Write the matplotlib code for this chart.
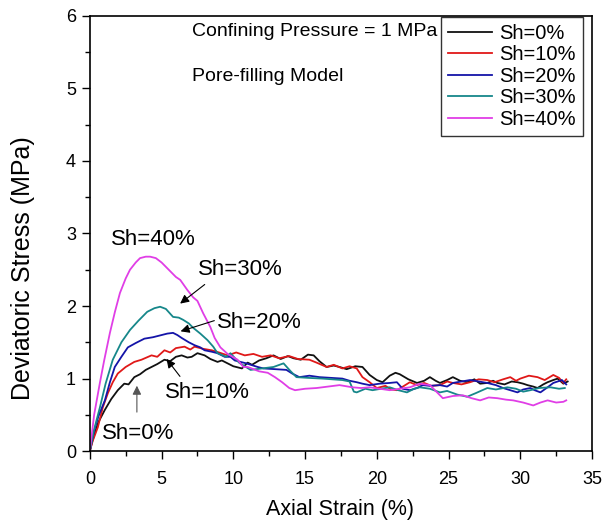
import numpy as np
import matplotlib
matplotlib.use("Agg")
import matplotlib.pyplot as plt
from matplotlib.ticker import MultipleLocator

plt.rcParams["font.family"] = ["Liberation Sans", "DejaVu Sans"]

# (axial strain %, deviatoric stress MPa)
SH0 = np.array([
    (0, 0), (0.15, 0.12), (0.35, 0.25), (0.6, 0.4), (1.05, 0.57), (1.5, 0.72),
    (1.95, 0.84), (2.4, 0.93), (2.7, 0.92), (3.1, 1.02), (3.5, 1.06), (3.9, 1.12),
    (4.3, 1.16), (4.7, 1.20), (5.2, 1.26), (5.6, 1.24), (6.0, 1.30), (6.4, 1.32),
    (6.8, 1.29), (7.1, 1.30), (7.5, 1.35), (8.0, 1.32), (8.4, 1.27), (8.9, 1.23),
    (9.2, 1.25), (9.6, 1.21), (10.0, 1.17), (10.6, 1.14), (11.0, 1.22), (11.3, 1.19),
    (11.8, 1.25), (12.3, 1.28), (12.8, 1.32), (13.3, 1.27), (13.8, 1.31), (14.2, 1.28),
    (14.7, 1.26), (15.2, 1.33), (15.6, 1.32), (16.0, 1.24), (16.5, 1.16), (17.0, 1.18),
    (17.4, 1.16), (17.9, 1.13), (18.5, 1.17), (19.0, 1.16), (19.5, 1.05), (20.0, 0.98),
    (20.4, 0.95), (20.9, 1.04), (21.3, 1.08), (21.6, 1.06), (22.2, 0.99), (22.8, 0.94),
    (23.3, 0.97), (23.7, 1.02), (24.1, 0.97), (24.4, 0.94), (24.9, 0.98), (25.3, 1.02),
    (25.8, 0.97), (26.3, 0.95), (26.8, 0.99), (27.2, 0.93), (27.7, 0.94), (28.1, 0.97),
    (28.4, 0.94), (28.9, 0.92), (29.4, 0.96), (29.8, 0.95), (30.2, 0.93), (30.5, 0.91),
    (30.9, 0.89), (31.2, 0.87), (31.6, 0.92), (31.9, 0.95), (32.3, 0.98), (32.6, 1.0),
    (33.0, 0.93), (33.3, 0.96),
])

SH10 = np.array([
    (0, 0), (0.2, 0.14), (0.56, 0.33), (0.9, 0.6), (1.26, 0.8), (1.6, 0.95),
    (1.95, 1.07), (2.5, 1.16), (3.1, 1.23), (3.6, 1.26), (4.3, 1.32), (4.7, 1.30),
    (5.2, 1.39), (5.6, 1.36), (6.0, 1.42), (6.6, 1.44), (7.0, 1.40), (7.3, 1.44),
    (7.9, 1.41), (8.5, 1.39), (9.0, 1.36), (9.6, 1.32), (10.2, 1.36), (10.8, 1.32),
    (11.4, 1.34), (12.0, 1.30), (12.6, 1.32), (13.2, 1.28), (13.9, 1.31), (14.5, 1.27),
    (15.3, 1.26), (15.8, 1.22), (16.5, 1.16), (17.0, 1.19), (17.6, 1.14), (18.1, 1.17),
    (18.6, 1.14), (19.0, 1.02), (19.5, 0.95), (20.0, 0.87), (20.6, 0.90), (21.0, 0.85),
    (21.4, 0.84), (21.9, 0.90), (22.3, 0.95), (22.8, 0.91), (23.3, 0.94), (23.8, 0.90),
    (24.4, 0.91), (24.9, 0.96), (25.3, 0.94), (25.9, 0.92), (26.5, 0.95), (27.1, 0.99),
    (27.7, 0.98), (28.2, 0.95), (28.8, 0.99), (29.3, 1.02), (29.7, 0.97), (30.0, 1.0),
    (30.6, 1.04), (31.2, 1.02), (31.7, 0.98), (32.3, 1.05), (32.7, 1.01), (33.0, 0.94),
    (33.2, 0.99),
])

SH20 = np.array([
    (0, 0), (0.3, 0.28), (0.6, 0.48), (1.05, 0.70), (1.4, 0.95), (1.74, 1.16),
    (2.2, 1.30), (2.65, 1.43), (3.2, 1.49), (3.8, 1.55), (4.4, 1.57), (5.0, 1.60),
    (5.4, 1.62), (5.8, 1.63), (6.1, 1.60), (6.4, 1.56), (6.9, 1.50), (7.3, 1.46),
    (7.7, 1.43), (8.0, 1.39), (8.5, 1.37), (8.9, 1.35), (9.4, 1.30), (9.8, 1.30),
    (10.1, 1.25), (10.9, 1.21), (11.7, 1.16), (12.1, 1.14), (12.9, 1.13), (13.7, 1.12),
    (14.1, 1.07), (14.6, 1.02), (15.3, 1.04), (16.0, 1.02), (16.8, 1.01), (17.6, 1.0),
    (18.1, 0.97), (18.6, 0.95), (19.0, 0.93), (19.5, 0.91), (20.2, 0.93), (20.9, 0.94),
    (21.4, 0.95), (21.8, 0.86), (22.3, 0.84), (22.8, 0.87), (23.2, 0.91), (23.7, 0.90),
    (24.4, 0.91), (24.9, 0.89), (25.3, 0.94), (25.9, 0.96), (26.5, 0.98), (27.1, 0.96),
    (27.7, 0.94), (28.3, 0.91), (28.8, 0.87), (29.3, 0.84), (29.8, 0.81), (30.2, 0.85),
    (30.7, 0.87), (31.0, 0.84), (31.4, 0.81), (31.9, 0.88), (32.3, 0.94), (32.9, 0.98),
    (33.2, 0.92),
])

SH30 = np.array([
    (0, 0), (0.3, 0.3), (0.7, 0.6), (1.1, 0.93), (1.6, 1.26), (2.2, 1.50),
    (2.8, 1.67), (3.4, 1.80), (4.0, 1.92), (4.5, 1.97), (4.9, 1.99), (5.3, 1.96),
    (5.8, 1.85), (6.2, 1.84), (6.5, 1.81), (6.9, 1.76), (7.2, 1.70), (7.7, 1.62),
    (8.2, 1.53), (8.6, 1.44), (8.9, 1.35), (9.5, 1.30), (9.8, 1.35), (10.4, 1.22),
    (11.2, 1.12), (12.0, 1.14), (12.8, 1.16), (13.5, 1.21), (14.0, 1.10), (14.4, 1.02),
    (15.2, 1.01), (16.2, 1.0), (16.9, 0.99), (17.6, 0.98), (18.1, 0.96), (18.4, 0.82),
    (18.6, 0.81), (19.2, 0.86), (19.7, 0.84), (20.3, 0.86), (20.9, 0.88), (21.5, 0.84),
    (22.1, 0.81), (22.6, 0.86), (23.0, 0.88), (23.7, 0.86), (24.4, 0.81), (24.9, 0.83),
    (25.6, 0.78), (26.3, 0.75), (26.9, 0.80), (27.7, 0.87), (28.3, 0.85), (29.1, 0.88),
    (29.7, 0.86), (30.2, 0.82), (30.7, 0.84), (31.3, 0.87), (32.1, 0.88), (32.7, 0.86),
    (33.1, 0.87),
])

SH40 = np.array([
    (0, 0), (0.3, 0.5), (0.7, 0.94), (1.0, 1.25), (1.4, 1.63), (1.75, 1.92),
    (2.1, 2.18), (2.5, 2.38), (2.8, 2.5), (3.2, 2.60), (3.5, 2.66), (3.9, 2.68),
    (4.2, 2.68), (4.6, 2.66), (5.0, 2.60), (5.5, 2.50), (6.0, 2.40), (6.3, 2.36),
    (6.8, 2.22), (7.2, 2.12), (7.5, 2.07), (7.9, 1.90), (8.4, 1.71), (8.7, 1.56),
    (9.1, 1.43), (9.6, 1.34), (10.3, 1.26), (10.7, 1.16), (11.0, 1.16), (11.8, 1.10),
    (12.4, 1.08), (12.9, 1.02), (13.4, 0.95), (13.9, 0.87), (14.3, 0.84), (15.0, 0.86),
    (15.8, 0.87), (16.6, 0.89), (17.4, 0.91), (18.3, 0.88), (18.9, 0.87), (19.5, 0.88),
    (20.2, 0.86), (20.9, 0.84), (21.6, 0.86), (22.3, 0.88), (23.0, 0.93), (23.7, 0.91),
    (24.0, 0.85), (24.6, 0.73), (25.3, 0.76), (26.0, 0.77), (26.6, 0.73), (27.2, 0.70),
    (27.8, 0.74), (28.4, 0.73), (29.0, 0.71), (29.5, 0.70), (30.2, 0.67), (30.9, 0.63),
    (31.4, 0.67), (31.9, 0.70), (32.5, 0.67), (33.0, 0.68), (33.2, 0.70),
])

SERIES = [SH0, SH10, SH20, SH30, SH40]
LABELS = ["Sh=0%", "Sh=10%", "Sh=20%", "Sh=30%", "Sh=40%"]
COLORS = ["#111111", "#e01818", "#1414a8", "#16878a", "#e03ee6"]

fig = plt.figure(figsize=(6.11, 5.24), dpi=100)
ax = fig.add_axes([0.147, 0.139, 0.822, 0.831])

for data, label, color in zip(SERIES, LABELS, COLORS):
    ax.plot(data[:, 0], data[:, 1], color=color, lw=1.3, label=label)

ax.set_xlim(0, 35)
ax.set_ylim(0, 6)
ax.xaxis.set_major_locator(MultipleLocator(5))
ax.xaxis.set_minor_locator(MultipleLocator(2.5))
ax.yaxis.set_major_locator(MultipleLocator(1))
ax.yaxis.set_minor_locator(MultipleLocator(0.5))
ax.tick_params(which="both", direction="out", top=False, right=False,
               labelsize=13, width=1.0)
ax.tick_params(which="major", length=6)
ax.tick_params(which="minor", length=3.5)
ax.tick_params(axis="x", which="major", pad=8)
ax.tick_params(axis="y", which="major", pad=4)
for sp in ax.spines.values():
    sp.set_linewidth(1.2)

ax.set_xlabel("Axial Strain (%)", fontsize=15.5)
ax.xaxis.set_label_coords(0.498, -0.11)
ax.set_ylabel("Deviatoric Stress (MPa)", fontsize=18)
ax.yaxis.set_label_coords(-0.11, 0.42)

ax.text(7.1, 5.78, "Confining Pressure = 1 MPa", fontsize=14, va="center")
ax.text(7.1, 5.16, "Pore-filling Model", fontsize=14, va="center")

leg = ax.legend(loc="upper right", fontsize=14.5, frameon=True, fancybox=False,
                edgecolor="black", borderpad=0.35, labelspacing=0.125,
                handlelength=2.2, handletextpad=0.35, borderaxespad=0,
                bbox_to_anchor=(0.982, 0.998))
leg.get_frame().set_linewidth(1.0)

arrow = dict(arrowstyle="-|>", color="black", lw=0.8, mutation_scale=13)
ax.text(4.4, 2.91, "Sh=40%", fontsize=16, ha="center", va="center")
ax.text(10.5, 2.51, "Sh=30%", fontsize=16, ha="center", va="center")
ax.annotate("", xy=(6.14, 2.01), xytext=(8.16, 2.32), arrowprops=arrow)
ax.text(11.8, 1.77, "Sh=20%", fontsize=16, ha="center", va="center")
ax.annotate("", xy=(6.14, 1.64), xytext=(8.86, 1.81), arrowprops=arrow)
ax.text(8.16, 0.81, "Sh=10%", fontsize=16, ha="center", va="center")
ax.annotate("", xy=(5.23, 1.30), xytext=(6.4, 1.0), arrowprops=arrow)
ax.text(3.35, 0.25, "Sh=0%", fontsize=16, ha="center", va="center")
ax.annotate("", xy=(3.28, 0.94), xytext=(3.28, 0.50),
            arrowprops=dict(arrowstyle="-|>", color="#555555", lw=0.8,
                            mutation_scale=13))

fig.savefig("out.png", dpi=100)
